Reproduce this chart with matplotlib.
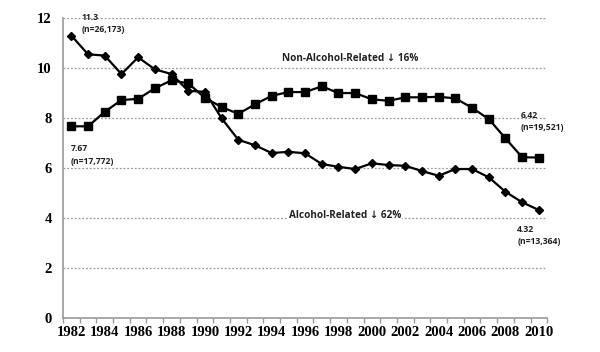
import matplotlib.pyplot as plt
import numpy as np

# data
years = list(range(1982, 2011))
alcohol = [11.3, 10.55, 10.5, 9.76, 10.43, 9.95, 9.76, 9.09, 9.05, 7.99,
           7.13, 6.91, 6.6, 6.65, 6.59, 6.16, 6.05, 5.96, 6.19, 6.12,
           6.09, 5.88, 5.69, 5.96, 5.96, 5.63, 5.05, 4.63, 4.32]
non_alcohol = [7.67, 7.67, 8.25, 8.72, 8.77, 9.19, 9.51, 9.39, 8.81, 8.44,
               8.17, 8.55, 8.89, 9.04, 9.04, 9.27, 9.0, 9.0, 8.75, 8.69,
               8.83, 8.83, 8.85, 8.79, 8.41, 7.96, 7.19, 6.43, 6.42]
y_ticks = [0, 2, 4, 6, 8, 10, 12]

fig = plt.figure(figsize=(6, 3.52), dpi=100)
ax = fig.add_axes([0.105, 0.0966, 0.807, 0.852])

x = np.arange(len(years))

#grid first so lines sit on top
for t in y_ticks[1:]:
    ax.axhline(t, color="#999999", lw=0.9, ls=(0, (1.5, 1.5)), zorder=0)

ax.plot(x, non_alcohol, color="black", lw=1.6, marker="s", ms=5.6, zorder=3)
ax.plot(x, alcohol, color="black", lw=1.6, marker="D", ms=4.0, zorder=3)

ax.set_xlim(-0.5, len(years) - 0.5)
ax.set_ylim(0, 12)

ax.set_xticks(x[::2])
ax.set_xticklabels([str(y) for y in years[::2]])
ax.set_xticks(np.arange(-0.5, len(years), 1.0), minor=True)
ax.tick_params(axis="x", which="major", length=0, pad=6)
ax.tick_params(axis="x", which="minor", length=3.5, color="#999999", width=1)
ax.set_yticks(y_ticks)
ax.tick_params(axis="y", length=0, pad=8)

for lab in ax.get_xticklabels() + ax.get_yticklabels():
    lab.set_fontfamily("Liberation Serif")
    lab.set_fontweight("bold")
    lab.set_fontsize(10.5)

for s in ["top", "right"]:
    ax.spines[s].set_visible(False)
for s in ["left", "bottom"]:
    ax.spines[s].set_color("#999999")
    ax.spines[s].set_linewidth(1.2)

afont = dict(family="Open Sans", fontweight="bold", fontsize=6.2, color="#222222",
             linespacing=1.5)
ax.text(0.6, 11.78, "11.3\n(n=26,173)", va="center", ha="left", **afont)
ax.text(-0.05, 6.52, "7.67\n(n=17,772)", va="center", ha="left", **afont)
ax.text(26.9, 7.86, "6.42\n(n=19,521)", va="center", ha="left", **afont)
ax.text(26.7, 3.3, "4.32\n(n=13,364)", va="center", ha="left", **afont)

lfont = dict(family=["Open Sans", "DejaVu Sans"], fontweight="bold", fontsize=7.2,
             color="#222222")
ax.text(16.7, 10.4, "Non-Alcohol-Related \u2193 16%", ha="center", va="center", **lfont)
ax.text(16.4, 4.12, "Alcohol-Related \u2193 62%", ha="center", va="center",
        bbox=dict(facecolor="white", edgecolor="none", pad=0.5), **lfont)

fig.savefig("out.png", dpi=100)
